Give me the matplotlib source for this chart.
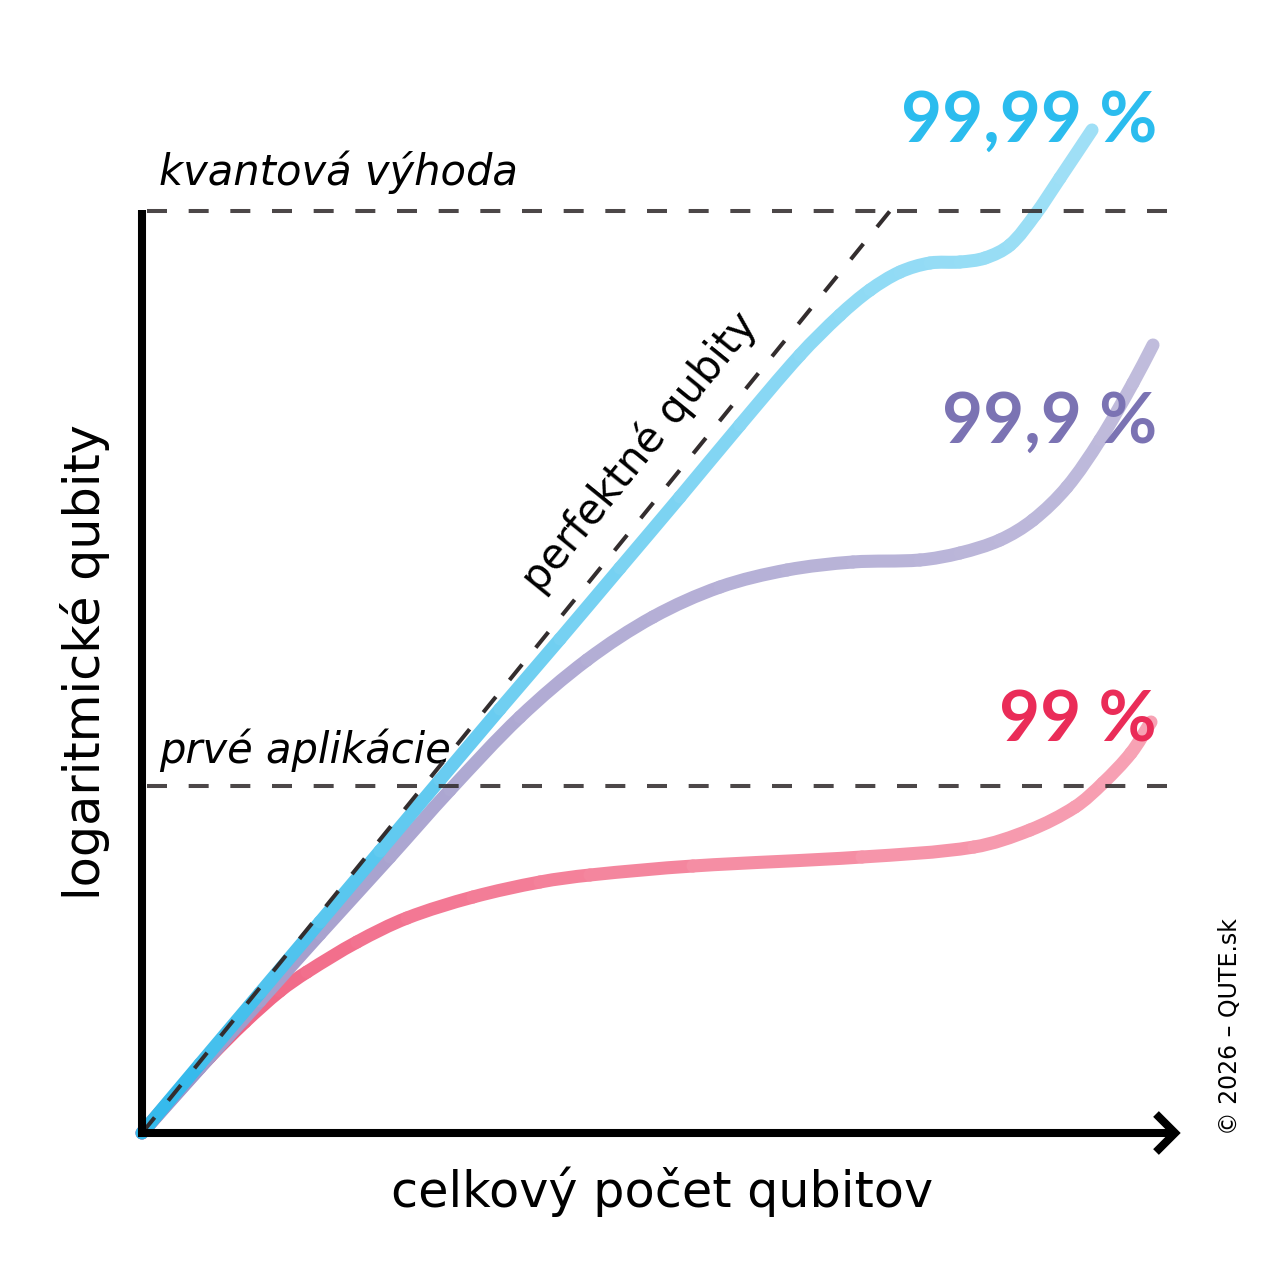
import numpy as np
import matplotlib
matplotlib.use("Agg")
import matplotlib.pyplot as plt
from matplotlib.path import Path
from matplotlib.patches import PathPatch
from matplotlib.colors import to_rgb

plt.rcParams['font.family'] = ['DejaVu Sans']
plt.rcParams['lines.scale_dashes'] = False

# curves: x = total qubits, y = logical qubits (arbitrary units)
blue_x = [0, 0.58, 1.18, 1.78, 2.38, 2.98, 3.58, 4.18, 4.78, 5.38, 5.98, 6.58,
          6.98, 7.28, 7.58, 7.88, 8.18, 8.43, 8.68, 8.93, 9.18, 9.50]
blue_y = [0, 0.69, 1.40, 2.11, 2.82, 3.53, 4.24, 4.94, 5.65, 6.36, 7.08, 7.78,
          8.18, 8.43, 8.61, 8.70, 8.71, 8.75, 8.88, 9.18, 9.55, 10.03]

purple_x = [0, 0.58, 1.18, 1.78, 2.48, 3.08, 3.78, 4.45, 5.11, 5.78, 6.45, 7.11,
            7.78, 8.18, 8.58, 8.91, 9.25, 9.58, 9.91, 10.11]
purple_y = [0, 0.65, 1.32, 1.99, 2.76, 3.43, 4.16, 4.73, 5.16, 5.46, 5.63, 5.71,
            5.73, 5.80, 5.93, 6.13, 6.46, 6.93, 7.50, 7.88]

red_x = [0, 0.33, 0.68, 1.03, 1.38, 1.65, 2.15, 2.65, 3.31, 3.98, 4.48, 5.51,
         7.20, 8.32, 8.88, 9.33, 9.61, 9.89, 10.09]
red_y = [0, 0.38, 0.76, 1.11, 1.42, 1.61, 1.91, 2.15, 2.36, 2.51, 2.58, 2.67,
         2.76, 2.86, 3.03, 3.26, 3.50, 3.80, 4.11]

perfect_x = [0, 7.48]
perfect_y = [0, 9.22]

advantage_level = 9.22
first_apps_level = 3.47

labels = ['99,99 %', '99,9 %', '99 %']
label_y = [9.91, 6.90, 3.91]

fig = plt.figure(figsize=(12.76, 12.76), dpi=100)
ax = fig.add_axes([0, 0, 1, 1])
ax.set_xlim(-1.42, 11.34)
ax.set_ylim(-1.43, 11.33)
ax.axis('off')


def smooth_gradient(x, y, c0, c1, power=0.6, z=3):
    # bezier piece per segment, tangents from neighbours, colour shifts along the curve
    p = np.column_stack([x, y]).astype(float)
    n = len(p)
    d = np.hypot(*np.diff(p, axis=0).T)
    tang = np.zeros_like(p)
    for i in range(n):
        v = p[min(i + 1, n - 1)] - p[max(i - 1, 0)]
        tang[i] = v / np.hypot(*v)
    s = (np.cumsum(d) - d / 2) / d.sum()
    t = s ** power
    a, b = np.array(to_rgb(c0)), np.array(to_rgb(c1))
    for i in range(n - 1):
        p1, p2 = p[i], p[i + 1]
        h1 = p1 + tang[i] * d[i] / 3
        h2 = p2 - tang[i + 1] * d[i] / 3
        path = Path([p1, h1, h2, p2], [Path.MOVETO, Path.CURVE4, Path.CURVE4, Path.CURVE4])
        col = a * (1 - t[i]) + b * t[i]
        ax.add_patch(PathPatch(path, fill=False, edgecolor=col, lw=9.4,
                               capstyle='round', joinstyle='round', zorder=z))


smooth_gradient(red_x, red_y, '#ee4a70', '#f7a3b5', z=3)
smooth_gradient(purple_x, purple_y, '#9890c6', '#c0bcdc', z=4)
smooth_gradient(blue_x, blue_y, '#27b5ea', '#a0e0f6', z=5)

dash_col = '#332d2e'
ax.plot(perfect_x, perfect_y, color=dash_col, lw=2.9, ls=(0, (14.4, 15.6)), zorder=6)
for lvl in [advantage_level, first_apps_level]:
    ax.plot([0.05, 10.38], [lvl, lvl], color=dash_col, lw=2.9,
            ls=(0, (14.4, 15.6)), alpha=0.88, zorder=6)

# axes with arrow
ax.plot([0, 0], [-0.04, 9.23], color='black', lw=5.8, solid_capstyle='butt', zorder=7)
ax.plot([-0.04, 10.28], [0, 0], color='black', lw=5.8, solid_capstyle='butt', zorder=7)
ax.plot([10.14, 10.33, 10.14], [0.19, 0, -0.19], color='black', lw=5.8,
        solid_joinstyle='miter', solid_capstyle='butt', zorder=7)

ax.text(0.17, 9.48, 'kvantová výhoda', fontsize=30, style='italic', va='baseline')
ax.text(0.17, 3.70, 'prvé aplikácie', fontsize=30, style='italic', va='baseline')
ax.text(4.98, 6.81, 'perfektné qubity', fontsize=30, rotation=50.9,
        rotation_mode='anchor', ha='center', va='center')

ax.text(5.20, -0.74, 'celkový počet qubitov', fontsize=35.5, ha='center', va='baseline')
ax.text(-0.42, 4.71, 'logaritmické qubity', fontsize=35.5, rotation=90,
        rotation_mode='anchor', ha='center', va='baseline')

label_cols = ['#2bbcee', '#7b73b3', '#ea2c58']
for txt, ly, c in zip(labels, label_y, label_cols):
    ax.text(10.15, ly, txt, fontsize=51, fontweight='bold', color=c,
            family=['Lato', 'DejaVu Sans'], ha='right', va='baseline', zorder=8)

ax.text(10.95, -0.02, '© 2026 – QUTE.sk', fontsize=17, rotation=90,
        rotation_mode='anchor', ha='left', va='baseline')

fig.savefig('out.png', dpi=100)
